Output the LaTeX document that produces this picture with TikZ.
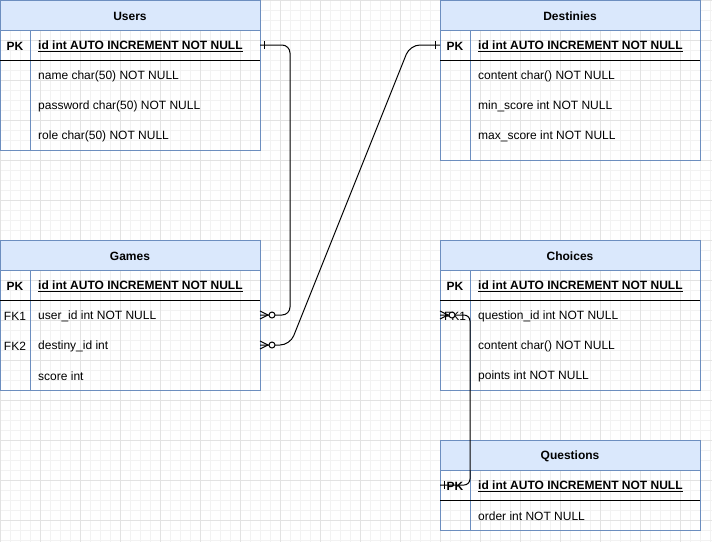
\documentclass[tikz,border=0pt]{standalone}
\usepackage{fontspec}
\setmainfont{Liberation Sans}
\definecolor{hdr}{HTML}{DAE8FC}
\definecolor{bord}{HTML}{6C8EBF}
\definecolor{gminor}{HTML}{F2F2F2}
\definecolor{gmajor}{HTML}{E2E2E2}
\newcommand\ertbl[5]{%
  \node[tframe, minimum height=#4pt] (#1) at (#2,#3) {};
  \node[thead] (#1-h) at (#2,#3) {};
  \node[htxt] (#1-t) at (#2+130,#3+15) {#5};
  \draw[bord, line width=1pt] (#2+30,#3+30) -- (#2+30,#3+#4);
  \draw[sepline] (#2,#3+60) -- (#2+260,#3+60);
}
\newcommand\mkone[2]{\draw[edgeline] (#1) ++(#2,-4) -- ++(0,8);}
\newcommand\mkzmany[1]{%
  \draw[edgeline] (#1) ++(0,-4) -- ++(8,4) -- ++(-8,4);
  \draw[edgeline, fill=white] (#1) ++(12,0) circle (3pt);}
\begin{document}
\begin{tikzpicture}[x=1pt,y=-1pt,
  font=\fontsize{12}{14}\selectfont,
  tframe/.style={draw=bord, line width=1pt, anchor=north west, inner sep=0pt, minimum width=260pt},
  thead/.style={draw=bord, line width=1pt, fill=hdr, anchor=north west, inner sep=0pt, minimum width=260pt, minimum height=30pt},
  htxt/.style={anchor=center, inner sep=0pt, yshift=-1pt, font=\fontsize{12}{14}\selectfont\bfseries},
  sepline/.style={draw=black, line width=1pt},
  rowtxt/.style={anchor=west, inner sep=0pt, yshift=-1pt},
  keytxt/.style={anchor=center, inner sep=0pt, yshift=-1pt},
  pktxt/.style={anchor=west, inner sep=0pt, yshift=-1pt, font=\fontsize{12}{14}\selectfont\bfseries},
  edgeline/.style={draw=black, line width=1pt},
  edge/.style={draw=black, line width=1pt, rounded corners=8pt}]
\useasboundingbox (0,0) rectangle (712,542);
\fill[white] (0,0) rectangle (712,542);
% grid
\foreach \i in {0,10,...,710} \draw[gminor, line width=1pt] (\i,0) -- (\i,542);
\foreach \j in {0,10,...,540} \draw[gminor, line width=1pt] (0,\j) -- (712,\j);
\foreach \i in {0,40,...,680} \draw[gmajor, line width=1pt] (\i,0) -- (\i,542);
\foreach \j in {0,40,...,520} \draw[gmajor, line width=1pt] (0,\j) -- (712,\j);

% Users
\ertbl{users}{0}{0}{150}{Users}
\node[keytxt, font=\fontsize{12}{14}\selectfont\bfseries] (users-pk) at (15,45) {PK};
\node[pktxt] (users-id) at (38,45) {\underline{id int AUTO INCREMENT NOT NULL}};
\node[rowtxt] (users-name) at (38,75) {name char(50) NOT NULL};
\node[rowtxt] (users-pw) at (38,105) {password char(50) NOT NULL};
\node[rowtxt] (users-role) at (38,135) {role char(50) NOT NULL};

% Destinies
\ertbl{dest}{440}{0}{160}{Destinies}
\node[keytxt, font=\fontsize{12}{14}\selectfont\bfseries] (dest-pk) at (455,45) {PK};
\node[pktxt] (dest-id) at (478,45) {\underline{id int AUTO INCREMENT NOT NULL}};
\node[rowtxt] (dest-content) at (478,75) {content char() NOT NULL};
\node[rowtxt] (dest-min) at (478,105) {min\_score int NOT NULL};
\node[rowtxt] (dest-max) at (478,135) {max\_score int NOT NULL};

% Games
\ertbl{games}{0}{240}{150}{Games}
\node[keytxt, font=\fontsize{12}{14}\selectfont\bfseries] (games-pk) at (15,285) {PK};
\node[pktxt] (games-id) at (38,285) {\underline{id int AUTO INCREMENT NOT NULL}};
\node[keytxt] (games-fk1) at (15,315) {FK1};
\node[rowtxt] (games-user) at (38,315) {user\_id int NOT NULL};
\node[keytxt] (games-fk2) at (15,345) {FK2};
\node[rowtxt] (games-dest) at (38,345) {destiny\_id int};
\node[rowtxt] (games-score) at (38,375) {score int};

% Choices
\ertbl{choices}{440}{240}{150}{Choices}
\node[keytxt, font=\fontsize{12}{14}\selectfont\bfseries] (choices-pk) at (455,285) {PK};
\node[pktxt] (choices-id) at (478,285) {\underline{id int AUTO INCREMENT NOT NULL}};
\node[keytxt] (choices-fk1) at (455,315) {FK1};
\node[rowtxt] (choices-q) at (478,315) {question\_id int NOT NULL};
\node[rowtxt] (choices-content) at (478,345) {content char() NOT NULL};
\node[rowtxt] (choices-points) at (478,375) {points int NOT NULL};

% Questions
\ertbl{quest}{440}{440}{90}{Questions}
\node[keytxt, font=\fontsize{12}{14}\selectfont\bfseries] (quest-pk) at (455,485) {PK};
\node[pktxt] (quest-id) at (478,485) {\underline{id int AUTO INCREMENT NOT NULL}};
\node[rowtxt] (quest-order) at (478,515) {order int NOT NULL};

% connection points
\coordinate (u-pk-r) at (260,45);
\coordinate (g-fk1-r) at (260,315);
\coordinate (g-fk2-r) at (260,345);
\coordinate (d-pk-l) at (440,45);
\coordinate (c-fk1-l) at (440,315);
\coordinate (q-pk-l) at (440,485);
\coordinate (w1) at (290,345);
\coordinate (w2) at (410,45);

% edges
\draw[edge] (u-pk-r) -- ++(30,0) |- (g-fk1-r);
\draw[edge, rounded corners=10pt] (g-fk2-r) -- (w1) -- (w2) -- (d-pk-l);
\draw[edge, rounded corners=6pt] (c-fk1-l) -- ++(30,0) |- (q-pk-l);

% markers
\mkone{u-pk-r}{4.5}
\mkone{d-pk-l}{-4.5}
\mkone{q-pk-l}{4.5}
\mkzmany{g-fk1-r}
\mkzmany{g-fk2-r}
\mkzmany{c-fk1-l}
\end{tikzpicture}
\end{document}
